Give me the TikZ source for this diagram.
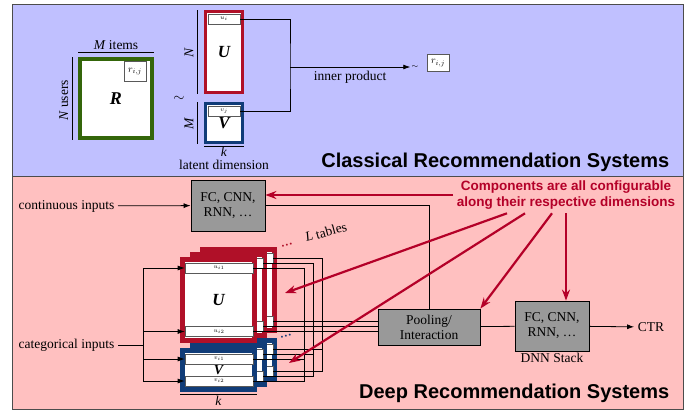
\documentclass[tikz,border=0pt]{standalone}
\usepackage{fontspec}
\setmainfont{Liberation Serif}
\setsansfont{Liberation Sans}
\usetikzlibrary{arrows.meta,positioning}

\definecolor{clsblue}{RGB}{192,192,255}
\definecolor{deeppink}{RGB}{255,192,192}
\definecolor{embred}{RGB}{176,16,40}
\definecolor{embblue}{RGB}{16,60,120}
\definecolor{embgreen}{RGB}{52,102,10}
\definecolor{compred}{RGB}{180,0,40}
\definecolor{boxgray}{RGB}{153,153,153}

\tikzset{
  mat/.style={draw=#1, fill=white, inner sep=0pt},
  biglabel/.style={font=\bfseries\itshape\fontsize{17}{17}\selectfont},
  bar/.style={draw=gray!70!black, fill=white, inner sep=0pt, line width=0.6pt, minimum width=68, minimum height=10, font=\fontsize{6}{6}\selectfont},
  layer/.style={draw=black, fill=boxgray, align=center, inner sep=0pt},
  redarrow/.style={draw=compred, line width=2.2pt, -{Stealth[length=11pt,width=8pt]}},
  title/.style={font=\sffamily\bfseries\fontsize{20}{24}\selectfont, anchor=east},
}

\begin{document}
\begin{tikzpicture}[x=1pt,y=-1pt,>={Latex[length=7pt,width=5pt]},line width=0.8pt,font=\fontsize{13.5}{15}\selectfont]
\useasboundingbox (0,0) rectangle (697,413);
% the two panels
\fill[clsblue] (12,4) rectangle (683,176);
\fill[deeppink] (12,176) rectangle (683,409);
\draw[gray!60!black] (12,4) rectangle (683,409) (12,176) -- (683,176);

%% classical: R ~ U V
\node[mat=embgreen, line width=4pt, minimum width=72, minimum height=79, font=\bfseries\itshape\fontsize{18}{18}\selectfont] (R) at (116,98.5) {R};
\node[mat=gray!70!black, line width=0.6pt, minimum width=22, minimum height=20, font=\fontsize{10}{10}\selectfont] (rij) at (135,71.5) {$r_{i,j}$};
\draw ([yshift=5pt]R.north west) -- ([yshift=5pt]R.north east) node[midway, above=-1pt] (mitems) {\textit{M} items};
\draw ([xshift=-6pt]R.north west) -- ([xshift=-6pt]R.south west) node[midway, above=-2pt, rotate=90] (nusers) {\textit{N} users};

\node[mat=embred, line width=3pt, minimum width=37, minimum height=81, biglabel] (U) at (224,52) {U};
\node[mat=gray!70!black, line width=0.6pt, minimum width=32, minimum height=10, font=\fontsize{6}{6}\selectfont] (ui) at (224,19) {$u_i$};
\node[mat=embblue, line width=3pt, minimum width=37, minimum height=39, biglabel] (V) at (224,123) {V};
\node[mat=gray!70!black, line width=0.6pt, minimum width=32, minimum height=10, font=\fontsize{6}{6}\selectfont] (vj) at (224,111) {$v_j$};
\draw ([xshift=-7pt]U.north west) -- ([xshift=-7pt]U.south west) node[midway, above=-1pt, rotate=90] (nlab) {\textit{N}};
\draw ([xshift=-7pt]V.north west) -- ([xshift=-7pt]V.south west) node[midway, above=-1pt, rotate=90] (mlab) {\textit{M}};
\node (approx) at (179,99) {$\sim$};
\draw ([yshift=-2pt]V.south west) -- ([yshift=-2pt]V.south east) node[midway, below=-3pt] (ktop) {\textit{k}};
\node[below=-1pt of ktop, inner sep=1pt] (latent) {latent dimension};

\coordinate (ip) at (290,67);
\node[inner sep=1pt, font=\fontsize{8}{8}\selectfont] (sim) at (415,67) {$\sim$};
\node[mat=gray!70!black, line width=0.6pt, minimum width=22, minimum height=17, font=\fontsize{10}{10}\selectfont] (rout) at (438,63) {$r_{i,j}$};
\draw (ui.east) -| (ip) |- (vj.east);
\draw[->] (ip) -- (sim) node[midway, below] (inner) {inner product};

\node[title] (clstitle) at (673,162) {Classical Recommendation Systems};

%% deep: embedding tables + layers
\node[layer, minimum width=74, minimum height=51] (fc) at (228,205.5) {FC, CNN,\\RNN, \dots};
\node[anchor=east] (cont) at (118,206) {continuous inputs};
\draw[->] (cont) -- (fc);
\node[layer, minimum width=102, minimum height=36] (pool) at (429,327) {Pooling/\\Interaction};
\node[layer, minimum width=74, minimum height=50] (dnn) at (552,326) {FC, CNN,\\RNN, \dots};
\node[below=-2pt of dnn] (dnnlab) {DNN Stack};
\node (ctr) at (651,327) {CTR};
\draw (pool) -- (dnn);
\draw[->] (dnn) -- (ctr);
\draw (fc.east) -| (pool.north);

% L tables, back to front (only the front one is labelled)
\foreach \j in {2,1,0} {
  \node[mat=embblue, line width=5pt, minimum width=72, minimum height=39, font=\bfseries\itshape\fontsize{14}{14}\selectfont] (V\j) at (218.5+10*\j, 370-5*\j) {\ifnum\j=0 V\fi};
  \node[bar] (va\j) at (219+10*\j, 359-5*\j) {\ifnum\j=0 $v_{i1}$\fi};
  \node[bar] (vb\j) at (219+10*\j, 381-5*\j) {\ifnum\j=0 $v_{i2}$\fi};
}
\foreach \j in {2,1,0} {
  \node[mat=embred, line width=5pt, minimum width=72, minimum height=81, biglabel] (U\j) at (218.5+10*\j, 300-5*\j) {\ifnum\j=0 U\fi};
  \node[bar] (ua\j) at (219+10*\j, 268-5*\j) {\ifnum\j=0 $u_{i1}$\fi};
  \node[bar] (ub\j) at (219+10*\j, 331.5-5*\j) {\ifnum\j=0 $u_{i2}$\fi};
}
\node[rotate=15] (ltab) at (326,232) {\textit{L} tables};
\node[rotate=15, text=embred, font=\bfseries\fontsize{12}{12}\selectfont] (udots) at (287,245) {\dots};
\node[rotate=15, text=embblue, font=\bfseries\fontsize{12}{12}\selectfont] (vdots) at (286,336) {\dots};
\draw ([yshift=-2.5pt]V0.south west) -- ([yshift=-2.5pt]V0.south east) node[midway, below=-2pt] (kdeep) {\textit{k}};

\node[anchor=east] (cat) at (118,345) {categorical inputs};
\coordinate (split) at (143,345);
\draw (cat) -- (split);
\foreach \b in {ua0,ub0,va0,vb0}
  \draw[->] (split) |- (\b.west);

\foreach \j in {0,1,2} {
  \coordinate (col\j) at (304+9*\j, 0);
  \draw (ua\j.east) -| (col\j |- vb\j.east) -- (vb\j.east);
  \draw (va\j.east) -- (col\j |- va\j.east);
  \draw (ub\j.east) -- (pool.west |- ub\j.east);
}

\node[title] (deeptitle) at (673,393) {Deep Recommendation Systems};

% what can be configured
\node[font=\sffamily\bfseries\fontsize{13.5}{16.5}\selectfont, text=compred, align=center] (comp) at (566,195) {Components are all configurable\\along their respective dimensions};
\coordinate (utip) at (285,293);
\coordinate (vtip) at (289,363);
\draw[redarrow] (comp.west) -- (fc.east |- comp.west);
\draw[redarrow] ([xshift=-59pt]comp.south) -- (utip);
\draw[redarrow] ([xshift=-41pt]comp.south) -- (vtip);
\draw[redarrow] ([xshift=-14pt]comp.south) -- (pool.north east);
\draw[redarrow] (comp.south) -- (comp.south |- dnn.north);
\end{tikzpicture}
\end{document}
